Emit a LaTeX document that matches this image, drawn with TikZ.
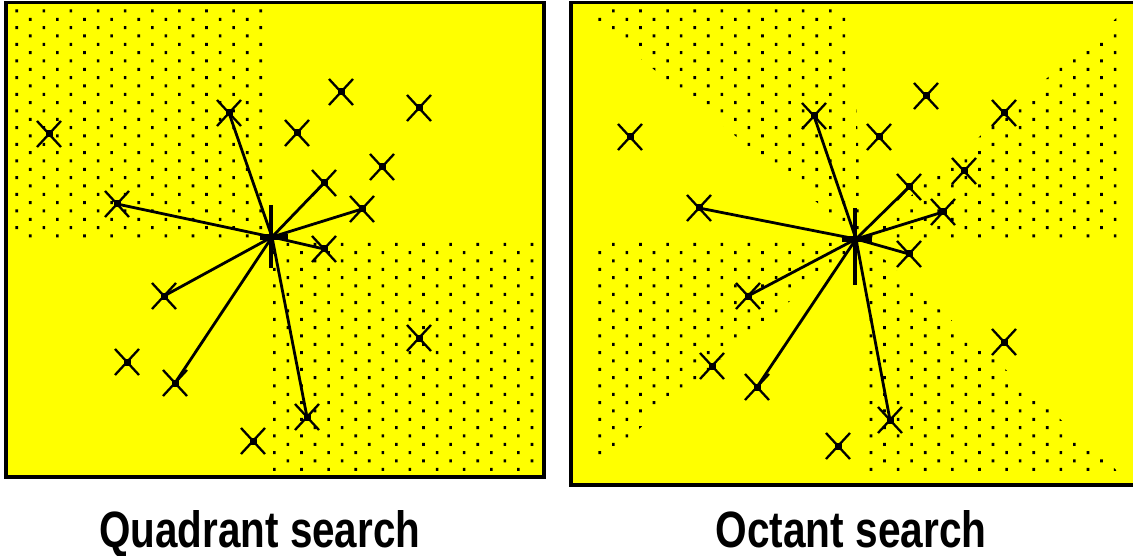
\documentclass[tikz,border=0pt]{standalone}
\usepackage{fontspec}
\setmainfont{Liberation Sans}
\usepackage{graphicx}
\usetikzlibrary{shapes.misc}
\definecolor{panelyellow}{RGB}{255,255,0}
\tikzset{
  panel/.style={fill=panelyellow, draw=black, line width=3.8pt},
  xmark/.style={cross out, draw=black, line width=2.3pt, minimum width=24pt, minimum height=26pt, inner sep=0pt, outer sep=0pt},
  conn/.style={draw=black, line width=2.8pt, line cap=round},
  vtick/.style={draw=black, line width=3.2pt},
  hbar/.style={draw=black, line width=5.5pt},
  caption/.style={anchor=base west, inner sep=0pt, outer sep=0pt},
}
\begin{document}
\begin{tikzpicture}[x=1pt,y=-1pt]
\useasboundingbox (0,0) rectangle (1133,556);
\clip (0,0) rectangle (1133,556);
\fill[white] (0,0) rectangle (1133,556);
% panels
\draw[panel] (6.2,2.5) rectangle (544.2,476.7);
\draw[panel] (571.2,2.5) rectangle (1150,484.7);
% dot fields
\begin{scope}
  \clip (8,4) rectangle (267,240)
        (268,240) rectangle (543,476)
        (863,240) -- (590,17.4) -- (590,4) -- (851,4) -- cycle
        (860,240) -- (1120,15) -- (1120,240) -- cycle
        (862,240) -- (590,240) -- (590,470.6) -- cycle
        (863,240) -- (1120,473.5) -- (1120,480) -- (864,480) -- cycle;
  \fill[black] \foreach \j in {0,...,55}{
      \foreach \i in {0,...,40}{
        ({16.7+27.12*\i+13.56*mod(\j,2)-1.3},{11+8.333*\j-1.5}) rectangle ++(2.6,3)
      }
    };
\end{scope}
% ---------- left panel: quadrant search ----------
\coordinate (lc) at (272,237);
\node[xmark] (q1) at (49,134) {};
\node[xmark] (q2) at (117,204) {};
\node[xmark] (q3) at (229,113) {};
\node[xmark] (q4) at (297,133) {};
\node[xmark] (q5) at (341,92) {};
\node[xmark] (q6) at (419,108) {};
\node[xmark] (q7) at (382,167) {};
\node[xmark] (q8) at (324,183) {};
\node[xmark] (q9) at (362,209) {};
\node[xmark] (q10) at (324,249) {};
\node[xmark] (q11) at (164,296) {};
\node[xmark] (q12) at (127,362) {};
\node[xmark] (q13) at (175,383) {};
\node[xmark] (q14) at (253,441) {};
\node[xmark] (q15) at (307,417) {};
\node[xmark] (q16) at (419,338) {};
\foreach \n in {q2,q3,q8,q9,q10,q11,q13,q15}
  \draw[conn] (lc) -- (\n.center);
\draw[vtick] (lc) +(-1,-32) -- +(-1,31);
\draw[hbar] (lc) +(-12,0) -- +(16,0);
% ---------- right panel: octant search ----------
\coordinate (rc) at (856,239);
\node[xmark] (o1) at (630,137) {};
\node[xmark] (o2) at (699,208) {};
\node[xmark] (o3) at (814,116) {};
\node[xmark] (o4) at (926,96) {};
\node[xmark] (o5) at (1004,113) {};
\node[xmark] (o6) at (879,137) {};
\node[xmark] (o7) at (964,171) {};
\node[xmark] (o8) at (909,187) {};
\node[xmark] (o9) at (943,212) {};
\node[xmark] (o10) at (909,254) {};
\node[xmark] (o11) at (748,296) {};
\node[xmark] (o12) at (712,366) {};
\node[xmark] (o13) at (757,387) {};
\node[xmark] (o14) at (838,446) {};
\node[xmark] (o15) at (1004,342) {};
\node[xmark] (o16) at (890,420) {};
\foreach \n in {o2,o3,o8,o9,o10,o11,o13,o16}
  \draw[conn] (rc) -- (\n.center);
\draw[vtick] (rc) +(-1,-31) -- +(-1,46);
\draw[hbar] (rc) +(-14,0) -- +(16,0);
% centre squares of the X marks
\foreach \n in {q1,q2,q3,q4,q5,q6,q7,q8,q9,q10,q11,q12,q13,q14,q15,q16,
                o1,o2,o3,o4,o5,o6,o7,o8,o9,o10,o11,o12,o13,o14,o15,o16}
  \fill[black] (\n.center) +(-3.5,-3.5) rectangle +(3.5,3.5);
% captions
\node[caption] (cap1) at (99.3,547.5) {\resizebox{321pt}{37pt}{\bfseries Quadrant search}};
\node[caption] (cap2) at (715.5,547.5) {\resizebox{271pt}{37pt}{\bfseries Octant search}};
\end{tikzpicture}
\end{document}
